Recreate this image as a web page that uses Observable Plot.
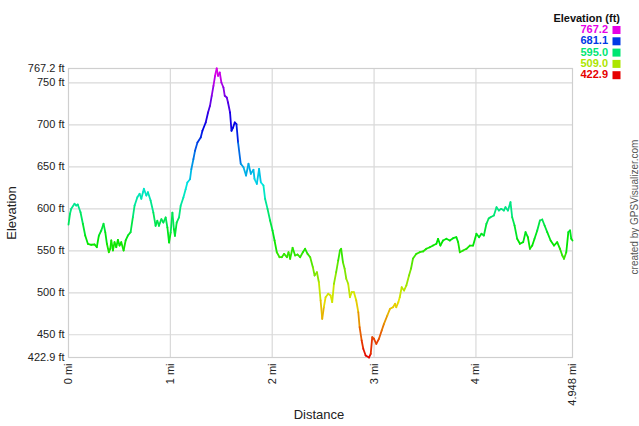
<!DOCTYPE html>
<html>
<head>
<meta charset="utf-8">
<script src="https://cdn.jsdelivr.net/npm/d3@7"></script>
<script src="https://cdn.jsdelivr.net/npm/@observablehq/plot@0.6"></script>
<style>
  html, body { margin: 0; padding: 0; background: #fff; }
  #chart svg { display: block; }
</style>
</head>
<body>
<div id="chart"></div>
<script>
// Distance along track (miles)
const dist = [
  0, 0.015, 0.027, 0.059, 0.076, 0.091, 0.118, 0.141, 0.164, 0.190,
  0.223, 0.256, 0.278, 0.298, 0.322, 0.344, 0.361, 0.377, 0.396, 0.410,
  0.420, 0.436, 0.452, 0.469, 0.485, 0.501, 0.518, 0.541, 0.561, 0.583,
  0.610, 0.632, 0.649, 0.676, 0.698, 0.715, 0.731, 0.740, 0.764, 0.780,
  0.806, 0.833, 0.855, 0.872, 0.888, 0.912, 0.931, 0.954, 0.971, 0.987,
  1.003, 1.020, 1.035, 1.045, 1.062, 1.085, 1.101, 1.128, 1.150, 1.167,
  1.193, 1.206, 1.226, 1.242, 1.266, 1.298, 1.315, 1.347, 1.370, 1.389,
  1.406, 1.423, 1.439, 1.455, 1.468, 1.485, 1.501, 1.521, 1.534, 1.554,
  1.566, 1.586, 1.600, 1.616, 1.632, 1.649, 1.665, 1.691, 1.718, 1.743,
  1.767, 1.790, 1.816, 1.826, 1.849, 1.871, 1.888, 1.914, 1.930, 1.954,
  1.979, 2.003, 2.023, 2.045, 2.072, 2.094, 2.117, 2.144, 2.160, 2.176,
  2.200, 2.225, 2.249, 2.274, 2.301, 2.323, 2.347, 2.373, 2.399, 2.416,
  2.439, 2.458, 2.475, 2.491, 2.507, 2.524, 2.550, 2.573, 2.589, 2.606,
  2.628, 2.648, 2.665, 2.677, 2.694, 2.711, 2.727, 2.746, 2.763, 2.780,
  2.802, 2.825, 2.845, 2.858, 2.878, 2.894, 2.917, 2.950, 2.967, 2.982,
  2.999, 3.022, 3.048, 3.075, 3.097, 3.130, 3.156, 3.186, 3.206, 3.218,
  3.238, 3.252, 3.271, 3.294, 3.317, 3.343, 3.363, 3.382, 3.415, 3.448,
  3.481, 3.513, 3.547, 3.579, 3.612, 3.628, 3.651, 3.677, 3.710, 3.743,
  3.776, 3.808, 3.825, 3.842, 3.874, 3.907, 3.940, 3.972, 4.005, 4.031,
  4.054, 4.078, 4.103, 4.125, 4.143, 4.176, 4.202, 4.225, 4.248, 4.274,
  4.290, 4.314, 4.339, 4.356, 4.379, 4.405, 4.432, 4.464, 4.487, 4.510,
  4.530, 4.553, 4.575, 4.602, 4.628, 4.651, 4.674, 4.700, 4.733, 4.766,
  4.798, 4.825, 4.848, 4.865, 4.887, 4.907, 4.924, 4.936, 4.948
];
// Elevation (feet)
const elev = [
  581.3, 594.4, 600.0, 606.0, 604.0, 605.2, 596.0, 582.2, 568.2, 558.4,
  557.2, 557.5, 554.3, 568.2, 574.2, 582.2, 572.2, 558.4, 548.3, 552.4,
  562.3, 550.4, 560.3, 554.3, 563.1, 556.3, 560.3, 550.4, 562.3, 568.2,
  572.2, 590.0, 604.0, 613.9, 617.9, 612.0, 619.8, 623.9, 615.9, 619.8,
  609.9, 595.6, 579.8, 585.8, 579.8, 587.7, 583.7, 589.7, 577.8, 559.9,
  571.8, 595.6, 575.7, 567.9, 583.7, 589.7, 603.6, 613.5, 623.4, 631.4,
  635.3, 647.2, 659.1, 669.1, 679.0, 685.0, 693.0, 702.9, 714.8, 722.7,
  734.7, 746.6, 758.5, 767.2, 758.5, 762.4, 750.5, 744.6, 734.7, 732.6,
  726.7, 714.8, 693.0, 696.9, 702.9, 700.8, 679.0, 653.7, 649.6, 639.7,
  653.7, 641.7, 646.5, 635.8, 629.8, 647.7, 631.7, 627.8, 612.0, 600.0,
  586.1, 574.2, 562.3, 548.3, 542.4, 542.4, 546.4, 542.4, 548.3, 540.5,
  553.6, 544.4, 545.6, 542.4, 548.3, 552.4, 546.4, 542.4, 530.5, 520.6,
  524.5, 512.6, 490.8, 469.0, 482.8, 494.7, 498.8, 496.8, 488.8, 510.7,
  524.5, 538.5, 550.4, 552.4, 536.4, 528.6, 516.7, 510.7, 494.7, 500.7,
  500.7, 490.8, 476.9, 459.0, 443.2, 433.3, 425.3, 422.9, 427.3, 447.1,
  445.2, 439.2, 445.2, 455.1, 463.0, 472.9, 480.9, 482.8, 486.9, 482.8,
  488.8, 494.7, 506.6, 502.7, 508.7, 520.6, 528.9, 540.8, 546.4, 548.3,
  549.2, 552.4, 554.3, 556.3, 558.4, 564.3, 556.3, 562.3, 564.3, 562.3,
  565.0, 566.2, 560.3, 548.3, 550.4, 552.4, 556.3, 556.3, 570.3, 566.2,
  570.3, 568.2, 582.2, 588.5, 590.0, 592.1, 602.0, 598.0, 600.0, 598.0,
  602.0, 598.0, 607.9, 590.0, 580.2, 564.3, 558.4, 560.3, 572.2, 566.2,
  552.4, 556.3, 564.3, 574.2, 586.1, 587.3, 580.2, 572.2, 562.3, 556.3,
  560.3, 552.4, 544.4, 540.5, 548.3, 572.2, 574.2, 564.3, 562.3
];
const yTicks = [422.9, 450, 500, 550, 600, 650, 700, 750, 767.2];
const xTicks = [0, 1, 2, 3, 4, 4.948];
const legendValues = [767.2, 681.1, 595.0, 509.0, 422.9];
const elevMin = 422.9, elevMax = 767.2, distMax = 4.948;

const segments = [];
for (let i = 0; i < dist.length - 1; i++) {
  segments.push({x1: dist[i], y1: elev[i], x2: dist[i + 1], y2: elev[i + 1], e: (elev[i] + elev[i + 1]) / 2});
}

const chart = Plot.plot({
  width: 639,
  height: 426,
  marginLeft: 68,
  marginRight: 67,
  marginTop: 68,
  marginBottom: 69,
  style: {fontFamily: "'Liberation Sans', Arial, sans-serif", fontSize: "11px", color: "#222", background: "#fff"},
  x: {domain: [0, distMax]},
  y: {domain: [elevMin, elevMax]},
  color: {type: "linear", domain: [elevMin, elevMax], interpolate: t => d3.hsl(300 * t, 1, 0.45).formatHex()},
  marks: [
    Plot.gridY(yTicks.slice(1, -1), {stroke: "#d9d9d9", strokeOpacity: 1, strokeWidth: 1.2}),
    Plot.gridX(xTicks.slice(1, -1), {stroke: "#d9d9d9", strokeOpacity: 1, strokeWidth: 1.2}),
    Plot.frame({stroke: "#cfcfcf", strokeWidth: 1.2}),
    Plot.link(segments, {x1: "x1", y1: "y1", x2: "x2", y2: "y2", stroke: "e", strokeWidth: 1.8, strokeLinecap: "round"}),
    Plot.axisY(yTicks, {tickSize: 0, tickPadding: 4, tickFormat: d => `${d} ft`, label: null, fill: "#222"}),
    Plot.axisX(xTicks, {tickSize: 0, tickPadding: 6, tickRotate: -90, tickFormat: d => `${d} mi`, label: null, fill: "#222"})
  ]
});
document.getElementById("chart").appendChild(chart);

const svg = d3.select(chart);
const ff = "'Liberation Sans', Arial, sans-serif";
svg.append("text").attr("transform", "translate(13,213) rotate(-90)")
  .attr("text-anchor", "middle").attr("dominant-baseline", "middle")
  .attr("font-family", ff).attr("font-size", 13).attr("fill", "#222").text("Elevation");
svg.append("text").attr("x", 319).attr("y", 419)
  .attr("text-anchor", "middle").attr("font-family", ff).attr("font-size", 13).attr("fill", "#222").text("Distance");
svg.append("text").attr("transform", "translate(635,207) rotate(-90)")
  .attr("text-anchor", "middle").attr("dominant-baseline", "middle")
  .attr("font-family", ff).attr("font-size", 10).attr("fill", "#555").text("created by GPSVisualizer.com");

const color = chart.scale("color");
const leg = svg.append("g").attr("font-family", ff).attr("font-weight", "bold").attr("font-size", 11);
leg.append("text").attr("x", 620).attr("y", 22).attr("text-anchor", "end").attr("fill", "#111").text("Elevation (ft)");
legendValues.forEach((v, i) => {
  const cy = 30 + i * 11.3;
  const c = color.apply(v);
  leg.append("text").attr("x", 608).attr("y", cy).attr("dominant-baseline", "middle")
    .attr("text-anchor", "end").attr("fill", c).text(v.toFixed(1));
  leg.append("rect").attr("x", 612.5).attr("y", cy - 4).attr("width", 8).attr("height", 8).attr("fill", c);
});
</script>
</body>
</html>
